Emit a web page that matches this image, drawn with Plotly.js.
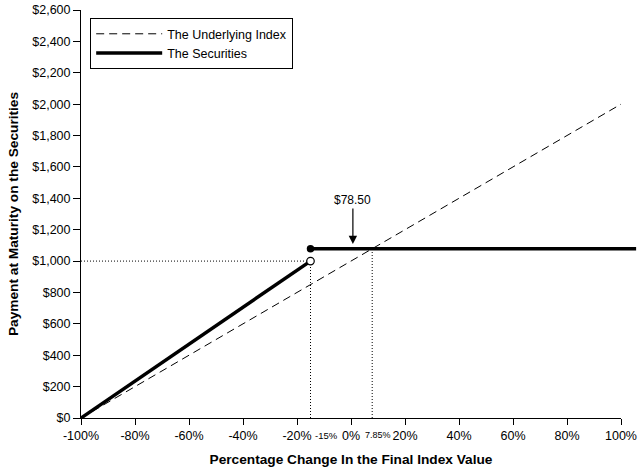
<!DOCTYPE html>
<html>
<head>
<meta charset="utf-8">
<script src="https://cdn.plot.ly/plotly-3.0.1.min.js"></script>
<style>
  html, body { margin: 0; padding: 0; background: #fff; }
  #chart { width: 644px; height: 467px; }
</style>
</head>
<body>
<div id="chart"></div>
<script>
// percentage change in the final index value
const indexX = [-100, 100]
const indexY = [0, 2000]

// securities payoff: leveraged downside below the buffer, flat above it
const downX = [-100, -15]
const downY = [0, 1000]
const flatX = [-15, 100]
const flatY = [1078.5, 1078.5]

const bufferLevel = -15
const capLevel = 7.85
const capPayment = 1078.5

const xTicks = [-100, -80, -60, -40, -20, 0, 20, 40, 60, 80, 100]
const xTickText = ['-100%', '-80%', '-60%', '-40%', '-20%', '0%', '20%', '40%', '60%', '80%', '100%']
const yTicks = [0, 200, 400, 600, 800, 1000, 1200, 1400, 1600, 1800, 2000, 2200, 2400, 2600]
const yTickText = ['$0', '$200', '$400', '$600', '$800', '$1,000', '$1,200', '$1,400', '$1,600',
  '$1,800', '$2,000', '$2,200', '$2,400', '$2,600']

const font = 'Liberation Sans, Arial, sans-serif'
const dotted = { color: '#000', width: 1, dash: '1px,2px' }

const traces = [
  {
    x: [-100, bufferLevel], y: [1000, 1000],
    mode: 'lines', line: dotted, showlegend: false, hoverinfo: 'none'
  },
  {
    x: [bufferLevel, bufferLevel], y: [0, 1000],
    mode: 'lines', line: dotted, showlegend: false, hoverinfo: 'none'
  },
  {
    x: [capLevel, capLevel], y: [0, capPayment],
    mode: 'lines', line: dotted, showlegend: false, hoverinfo: 'none'
  },
  {
    x: indexX, y: indexY, name: 'The Underlying Index',
    mode: 'lines', line: { color: '#000', width: 1, dash: '8px,5px' },
    hoverinfo: 'none'
  },
  {
    x: downX, y: downY, name: 'The Securities',
    mode: 'lines', line: { color: '#000', width: 3.5 },
    hoverinfo: 'none'
  },
  {
    x: flatX, y: flatY,
    mode: 'lines', line: { color: '#000', width: 3.5 },
    showlegend: false, hoverinfo: 'none'
  },
  {
    x: [bufferLevel], y: [flatY[0]],
    mode: 'markers', marker: { color: '#000', size: 7.5 },
    showlegend: false, hoverinfo: 'none', cliponaxis: false
  },
  {
    x: [bufferLevel], y: [downY[1]],
    mode: 'markers', marker: { color: '#fff', size: 7.5, line: { color: '#000', width: 1.2 } },
    showlegend: false, hoverinfo: 'none', cliponaxis: false
  }
]

const layout = {
  width: 644,
  height: 467,
  margin: { l: 81, r: 23, t: 10, b: 49 },
  paper_bgcolor: '#fff',
  plot_bgcolor: '#fff',
  font: { family: font, size: 12, color: '#000' },
  showlegend: true,
  legend: {
    x: 0.017, y: 0.98, xanchor: 'left', yanchor: 'top',
    bordercolor: '#000', borderwidth: 1, bgcolor: '#fff',
    font: { family: font, size: 12.5, color: '#000' },
    itemwidth: 66, tracegroupgap: 0
  },
  xaxis: {
    range: [-100, 100],
    tickvals: xTicks, ticktext: xTickText,
    ticks: 'outside', ticklen: 6, tickcolor: '#000',
    showline: true, linecolor: '#000', linewidth: 1,
    showgrid: false, zeroline: false,
    tickfont: { family: font, size: 12.5, color: '#000' },
    title: { text: 'Percentage Change In the Final Index Value', font: { family: font, size: 13.7, color: '#000', weight: 'bold' }, standoff: 12 }
  },
  yaxis: {
    range: [0, 2600],
    tickvals: yTicks, ticktext: yTickText,
    ticks: 'outside', ticklen: 7, tickcolor: '#000',
    showline: true, linecolor: '#000', linewidth: 1,
    showgrid: false, zeroline: false,
    tickfont: { family: font, size: 12.5, color: '#000' },
    title: { text: 'Payment at Maturity on the Securities', font: { family: font, size: 13.7, color: '#000', weight: 'bold' }, standoff: 10 }
  },
  shapes: [
    {
      // the securities line runs a little past the end of the axis
      type: 'line', xref: 'paper', yref: 'y',
      x0: 1, x1: 1.028, y0: flatY[1], y1: flatY[1],
      line: { color: '#000', width: 3.5 }
    }
  ],
  annotations: [
    {
      x: bufferLevel, y: 0, xref: 'x', yref: 'paper', xanchor: 'left', yanchor: 'top',
      xshift: 2, yshift: -10,
      text: '-15%', showarrow: false, font: { family: font, size: 9.5, color: '#000' }
    },
    {
      x: capLevel, y: 0, xref: 'x', yref: 'paper', yanchor: 'top',
      xshift: 6, yshift: -10,
      text: '7.85%', showarrow: false, font: { family: font, size: 9, color: '#000' }
    },
    {
      x: 0.7, y: capPayment + 30, xref: 'x', yref: 'y',
      text: '$78.50', showarrow: true, arrowhead: 2, arrowsize: 1.4, arrowwidth: 1.2,
      arrowcolor: '#000', ax: 0, ay: -44,
      font: { family: font, size: 12, color: '#000' }
    }
  ]
}

Plotly.newPlot('chart', traces, layout, { displayModeBar: false, staticPlot: true })
</script>
</body>
</html>
